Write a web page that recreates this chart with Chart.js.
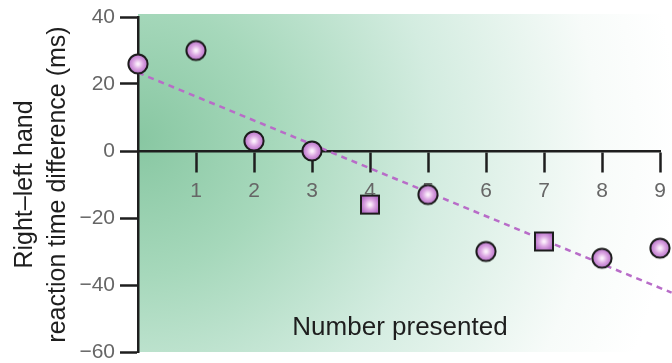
<!DOCTYPE html>
<html>
<head>
<meta charset="utf-8">
<script src="https://cdn.jsdelivr.net/npm/chart.js@4/dist/chart.umd.min.js"></script>
<style>
  html, body { margin: 0; padding: 0; background: #ffffff; }
  #wrap { width: 672px; height: 363px; position: relative; }
</style>
</head>
<body>
<div id="wrap"><canvas id="chart"></canvas></div>
<script>
// Number of items presented and the right-minus-left hand reaction time difference (ms)
const counts = [0, 1, 2, 3, 4, 5, 6, 7, 8, 9];
const diffs = [26, 30, 3, 0, -16, -13, -30, -27, -32, -29];
const markers = ['circle', 'circle', 'circle', 'circle', 'square', 'circle', 'circle', 'square', 'circle', 'circle'];

// Fitted regression line, given by its two end points
const trendX = [0, 9.2];
const trendY = [23.4, -42.3];

const yTickValues = [40, 20, 0, -20, -40, -60];
const xTickValues = [1, 2, 3, 4, 5, 6, 7, 8, 9];

const yTitle = ['Right\u2013left hand', 'reaction time difference (ms)'];
const xTitle = 'Number presented';

const FONT = '"Liberation Sans", Arial, Helvetica, sans-serif';

// Shaded marker sprites (glossy violet disc / square with a dark rim)
function makeMarker(kind) {
  const size = 24;
  const c = document.createElement('canvas');
  c.width = size; c.height = size;
  const g = c.getContext('2d');
  const grad = g.createRadialGradient(12, 12, 1, 12, 12, 10);
  grad.addColorStop(0, '#fbeefb');
  grad.addColorStop(0.45, '#dba6e2');
  grad.addColorStop(1, '#b46cc6');
  g.fillStyle = grad;
  g.strokeStyle = '#1c1c1c';
  g.lineWidth = 2;
  g.beginPath();
  if (kind === 'square') {
    g.rect(3, 3, 18, 18);
  } else {
    g.arc(12, 12, 9.6, 0, Math.PI * 2);
  }
  g.fill();
  g.stroke();
  return c;
}
const sprites = { circle: makeMarker('circle'), square: makeMarker('square') };

// Green wash behind the plot, fading to white on the right
const backdrop = {
  id: 'backdrop',
  beforeDraw(chart) {
    const { ctx, chartArea: a, width } = chart;
    const top = a.top - 3;
    const grad = ctx.createRadialGradient(a.left, 140, 0, a.left, 140, 540);
    grad.addColorStop(0, '#88c7a2');
    grad.addColorStop(0.25, '#a6d8bb');
    grad.addColorStop(0.55, '#d3ece0');
    grad.addColorStop(0.85, '#f7fbf9');
    grad.addColorStop(1, '#ffffff');
    ctx.save();
    ctx.fillStyle = grad;
    ctx.fillRect(a.left, top, width - a.left, a.bottom - top);
    ctx.restore();
  }
};

// Horizontal axis caption, placed low inside the plot
const xCaption = {
  id: 'xCaption',
  afterDatasetsDraw(chart) {
    const { ctx, chartArea: a } = chart;
    ctx.save();
    ctx.font = '26px ' + FONT;
    ctx.fillStyle = '#1e1e1e';
    ctx.textAlign = 'center';
    ctx.textBaseline = 'alphabetic';
    ctx.fillText(xTitle, 400, a.bottom - 17);
    ctx.restore();
  }
};

new Chart(document.getElementById('chart'), {
  type: 'scatter',
  data: {
    datasets: [
      {
        type: 'line',
        data: trendX.map((x, i) => ({ x, y: trendY[i] })),
        borderColor: '#b86cc8',
        borderWidth: 2.5,
        borderDash: [6, 5],
        pointRadius: 0,
        fill: false,
        clip: false,
        order: 2
      },
      {
        data: counts.map((x, i) => ({ x, y: diffs[i] })),
        pointStyle: markers.map(m => sprites[m]),
        pointRadius: 10,
        clip: false,
        order: 1
      }
    ]
  },
  options: {
    responsive: true,
    maintainAspectRatio: false,
    animation: false,
    devicePixelRatio: 1,
    layout: { padding: { left: 0, right: 12, top: 17, bottom: 11 } },
    plugins: { legend: { display: false }, tooltip: { enabled: false } },
    scales: {
      y: {
        type: 'linear',
        min: -60,
        max: 40,
        afterFit(scale) {
          scale.width = 138;
          scale.paddingTop = 0;
          scale.paddingBottom = 0;
        },
        afterBuildTicks(scale) { scale.ticks = yTickValues.map(v => ({ value: v })); },
        grid: {
          drawOnChartArea: false,
          drawTicks: true,
          tickLength: 18,
          tickColor: '#1e1e1e',
          tickWidth: 2.5
        },
        border: { display: true, color: '#1e1e1e', width: 2.5 },
        ticks: {
          padding: 5,
          color: '#666666',
          font: { family: FONT, size: 21 },
          callback: v => (v < 0 ? '\u2212' + Math.abs(v) : String(v))
        },
        title: {
          display: true,
          text: yTitle,
          color: '#1e1e1e',
          font: { family: FONT, size: 25, lineHeight: 1.3 },
          padding: { top: 9, bottom: 0 }
        }
      },
      x: {
        type: 'linear',
        min: 0,
        max: 9,
        position: { y: 0 },
        afterFit(scale) {
          scale.height = 0;
          scale.paddingLeft = 0;
          scale.paddingRight = 0;
          scale.paddingTop = 0;
          scale.paddingBottom = 0;
        },
        afterBuildTicks(scale) { scale.ticks = xTickValues.map(v => ({ value: v })); },
        grid: {
          drawOnChartArea: false,
          drawTicks: true,
          tickLength: 20,
          tickColor: '#1e1e1e',
          tickWidth: 2.5
        },
        border: { display: true, color: '#1e1e1e', width: 2.5 },
        ticks: {
          padding: 8,
          color: '#666666',
          font: { family: FONT, size: 21 },
          maxRotation: 0
        }
      }
    }
  },
  plugins: [backdrop, xCaption]
});
</script>
</body>
</html>
